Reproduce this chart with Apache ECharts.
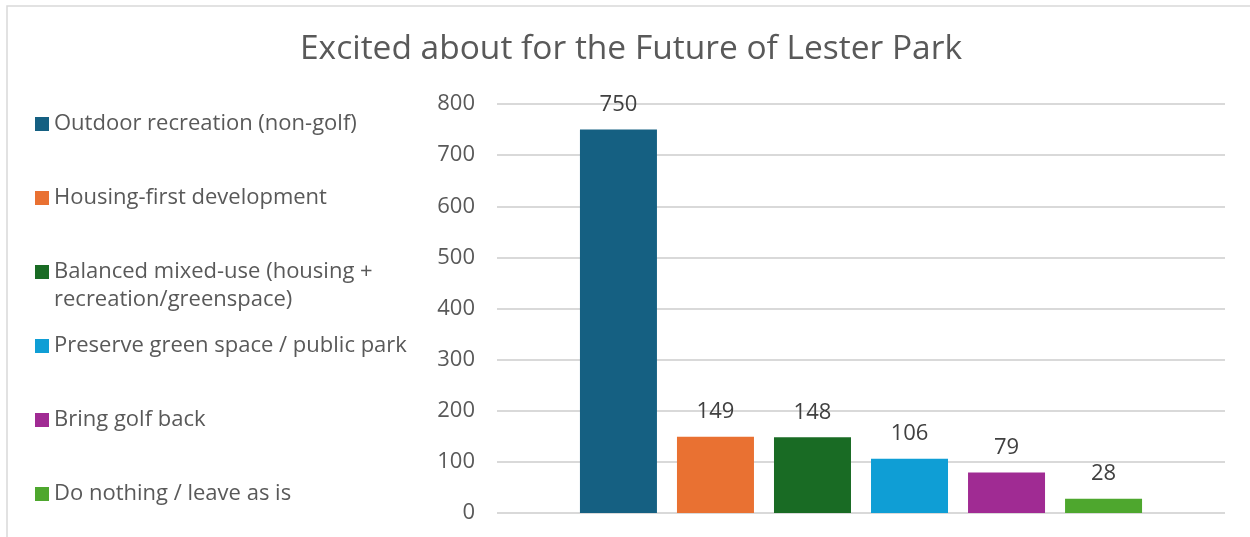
<!DOCTYPE html>
<html>
<head>
<meta charset="utf-8">
<script src="https://cdn.jsdelivr.net/npm/echarts@6/dist/echarts.min.js"></script>
<style>
  html, body { margin: 0; padding: 0; background: #ffffff; }
  #chart { width: 1250px; height: 537px; }
</style>
</head>
<body>
<div id="chart"></div>
<script>
// Survey responses: what people are excited about for Lester Park
const categories = [
  'Outdoor recreation (non-golf)',
  'Housing-first development',
  'Balanced mixed-use (housing + recreation/greenspace)',
  'Preserve green space / public park',
  'Bring golf back',
  'Do nothing / leave as is'
];
const legendLines = [
  ['Outdoor recreation (non-golf)'],
  ['Housing-first development'],
  ['Balanced mixed-use (housing +', 'recreation/greenspace)'],
  ['Preserve green space / public park'],
  ['Bring golf back'],
  ['Do nothing / leave as is']
];
const counts = [750, 149, 148, 106, 79, 28];
const colors = ['#156082', '#E97132', '#196B24', '#0F9ED5', '#A02B93', '#4EA72E'];
const yTicks = { min: 0, max: 800, interval: 100 };

const FONT = '"Open Sans", "Noto Sans", sans-serif';
const LINE_H = 28;
const chart = echarts.init(document.getElementById('chart'), null, { renderer: 'canvas' });

// one legend block per series, stacked down the left side;
// wrapped names keep the swatch level with their first line
const LEGEND_TOP = 124;
const LEGEND_STEP = 73.9;
const legends = categories.map((name, i) => {
  const lines = legendLines[i];
  const extra = lines.length - 1;
  // blank lines above balance the wrapped lines below, so the first line sits at the swatch centre
  const text = '\n'.repeat(extra) + lines.join('\n');
  const blockH = (2 * extra + 1) * LINE_H;
  const centre = LEGEND_TOP + LEGEND_STEP * i;
  return {
    data: [name],
    orient: 'vertical',
    left: 35,
    top: Math.round(centre - blockH / 2),
    padding: 0,
    icon: 'rect',
    itemWidth: 14,
    itemHeight: 14,
    itemGap: 0,
    textGap: 6,
    selectedMode: false,
    formatter: () => text,
    textStyle: {
      fontFamily: FONT,
      fontSize: 22,
      lineHeight: LINE_H,
      color: '#595959'
    }
  };
});

const series = categories.map((name, i) => ({
  name: name,
  type: 'bar',
  data: [counts[i]],
  barWidth: 77,
  barGap: '26%',
  itemStyle: { color: colors[i] },
  label: {
    show: true,
    position: 'top',
    distance: 14,
    fontFamily: FONT,
    fontSize: 22,
    color: '#404040'
  }
}));

chart.setOption({
  backgroundColor: '#ffffff',
  animation: false,
  title: {
    text: 'Excited about for the Future of Lester Park',
    left: 631,
    top: 28,
    textAlign: 'center',
    padding: 0,
    textStyle: {
      fontFamily: FONT,
      fontSize: 33.5,
      lineHeight: 42,
      fontWeight: 'normal',
      color: '#595959'
    }
  },
  legend: legends,
  grid: { left: 497, right: 25, top: 104, bottom: 24, containLabel: false },
  xAxis: {
    type: 'category',
    data: [''],
    axisLine: { show: false },
    axisTick: { show: false },
    axisLabel: { show: false },
    splitLine: { show: false }
  },
  yAxis: {
    type: 'value',
    min: yTicks.min,
    max: yTicks.max,
    interval: yTicks.interval,
    axisLine: { show: false },
    axisTick: { show: false },
    axisLabel: {
      margin: 22,
      fontFamily: FONT,
      fontSize: 22,
      color: '#595959'
    },
    splitLine: { show: true, lineStyle: { color: '#d9d9d9', width: 2 } }
  },
  graphic: [{
    type: 'rect',
    silent: true,
    z: -1,
    shape: { x: 7, y: 6, width: 1300, height: 600 },
    style: { fill: 'none', stroke: '#d9d9d9', lineWidth: 1.5 }
  }],
  series: series
});
</script>
</body>
</html>
